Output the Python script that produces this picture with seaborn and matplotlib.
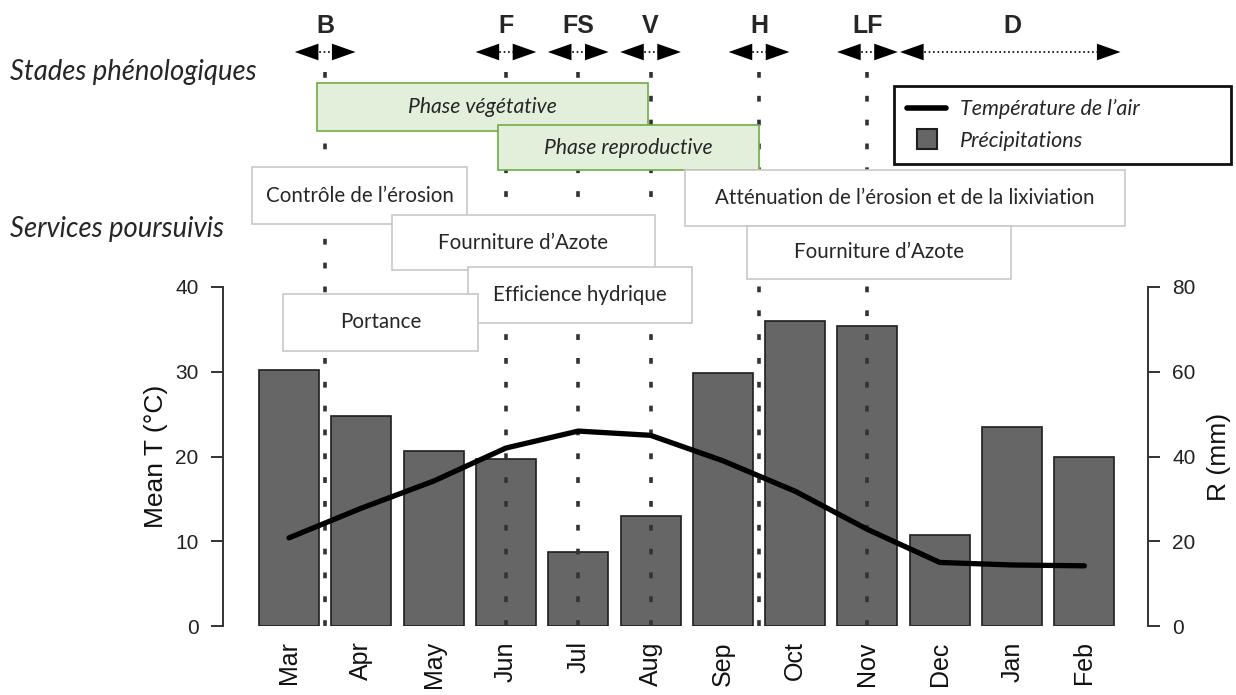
import numpy as np
import matplotlib
matplotlib.use("Agg")
import matplotlib.pyplot as plt
import matplotlib.transforms as mtransforms
from matplotlib.patches import Rectangle
from matplotlib.lines import Line2D
import seaborn as sns

# monthly climate data
months = ['Mar', 'Apr', 'May', 'Jun', 'Jul', 'Aug', 'Sep', 'Oct', 'Nov', 'Dec', 'Jan', 'Feb']
rain_mm = [60.3, 49.5, 41.3, 39.3, 17.4, 26.0, 59.7, 72.0, 70.9, 21.5, 47.0, 40.0]
temp_c = [10.4, 13.9, 17.1, 21.0, 23.0, 22.5, 19.5, 15.9, 11.4, 7.5, 7.2, 7.1]

# phenological stages (position in month index units)
stage_names = ['B', 'F', 'FS', 'V', 'H', 'LF']
stage_pos = [0.5, 3.0, 4.0, 5.0, 6.5, 8.0]
dormancy_label = 'D'
dormancy_pos = 10.0
dormancy_span = [8.45, 11.5]

# boxes: label, start, end (month index units), top, bottom (px from top)
phase_boxes = [
    ('Phase végétative', 0.39, 4.97, 83, 131),
    ('Phase reproductive', 2.89, 6.5, 125, 170),
]
service_boxes = [
    ('Contrôle de l\u2019érosion', -0.51, 2.46, 167, 224),
    ('Fourniture d\u2019Azote', 1.42, 5.06, 215, 270),
    ('Efficience hydrique', 2.48, 5.57, 267, 323),
    ('Portance', -0.08, 2.61, 294, 351),
    ('Atténuation de l\u2019érosion et de la lixiviation', 5.48, 11.56, 170, 226),
    ('Fourniture d\u2019Azote', 6.33, 9.99, 226, 279),
]

W, H = 1236, 695

sns.set_style("white")
plt.rcParams['font.family'] = ['Liberation Sans', 'DejaVu Sans']

fig = plt.figure(figsize=(W / 100, H / 100), dpi=100)
ax = fig.add_axes([223 / W, 1 - 626 / H, (1148 - 223) / W, (626 - 287) / H])

def fy(py):
    return 1 - py / H

# precipitation bars (right axis)
sns.barplot(x=months, y=rain_mm, ax=ax, color='#666666', saturation=1,
            edgecolor='#1e1e1e', linewidth=1.2, width=0.83, zorder=1)
ax.set_ylim(0, 80)
ax.set_xlim(-0.913, 11.88)

# temperature line (left axis), on a twin drawn above the bars
ax_t = ax.twinx()
sns.lineplot(x=np.arange(len(months)), y=temp_c, ax=ax_t, color='black',
             linewidth=3.8, zorder=5)
ax_t.set_ylim(0, 40)
ax_t.set_xlim(-0.913, 11.88)

spine_col = '#333333'
ax.yaxis.tick_right()
ax.yaxis.set_label_position('right')
for s in ['left', 'top', 'bottom']:
    ax.spines[s].set_visible(False)
    ax_t.spines[s].set_visible(s == 'left')
ax_t.spines['right'].set_visible(False)
ax.spines['right'].set_bounds(0, 80)
ax_t.spines['left'].set_bounds(0, 40)
ax.spines['right'].set_color(spine_col)
ax_t.spines['left'].set_color(spine_col)
ax.spines['right'].set_linewidth(1.4)
ax_t.spines['left'].set_linewidth(1.4)

ax_t.yaxis.tick_left()
ax_t.yaxis.set_label_position('left')
ax_t.set_yticks([0, 10, 20, 30, 40])
ax.set_yticks([0, 20, 40, 60, 80])
for a in (ax, ax_t):
    a.tick_params(axis='y', length=8.6, width=1.4, color=spine_col, pad=9,
                  labelsize=15, labelcolor='#222222')
ax.set_xticks(range(len(months)))
ax.set_xticklabels(months, rotation=90, fontsize=18, color='#111111')
ax.tick_params(axis='x', length=0, pad=11)
ax.set_xlabel('')
ax_t.set_ylabel('Mean T (°C)', fontsize=19, labelpad=5, color='#111111')
ax.set_ylabel('R (mm)', fontsize=19, labelpad=8, color='#111111')

blend = mtransforms.blended_transform_factory(ax_t.transData, fig.transFigure)

def double_arrow(x0, x1):
    # dotted stem with solid filled heads
    ax_t.plot([x0 + 0.15, x1 - 0.15], [fy(52), fy(52)], transform=blend, clip_on=False,
              color='black', lw=1.2, linestyle=':', zorder=3)
    ax_t.annotate('', xy=(x1, fy(52)), xytext=(x0, fy(52)),
                  xycoords=blend, textcoords=blend, annotation_clip=False,
                  arrowprops=dict(arrowstyle='<|-|>,head_length=1.7,head_width=0.6',
                                  lw=0, color='black', shrinkA=0, shrinkB=0))

# stage markers: dashed guides, letters and double arrows
for name, xp in zip(stage_names, stage_pos):
    ax_t.plot([xp, xp], [fy(72), fy(626)], transform=blend, clip_on=False,
              color='#333333', lw=2.6, linestyle=(0, (1.6, 5.0)), zorder=1.5)
    ax_t.text(xp, fy(26), name, transform=blend, ha='center', va='center',
              fontsize=18, fontweight='bold')
    double_arrow(xp - 0.42, xp + 0.42)
ax_t.text(dormancy_pos, fy(26), dormancy_label, transform=blend,
          ha='center', va='center', fontsize=18, fontweight='bold')
double_arrow(dormancy_span[0], dormancy_span[1])

# phase and service boxes
box_font = ['Lato', 'DejaVu Sans']
for label, x0, x1, ytop, ybot in phase_boxes:
    ax_t.add_patch(Rectangle((x0, fy(ybot)), x1 - x0, (ybot - ytop) / H,
                             transform=blend, clip_on=False, facecolor='#e2efda',
                             edgecolor='#70ad47', lw=1.2, zorder=4))
    ax_t.text((x0 + x1) / 2, fy((ytop + ybot) / 2), label, transform=blend,
              ha='center', va='center', fontsize=15.2, style='italic',
              family=box_font, zorder=4.1)
for label, x0, x1, ytop, ybot in service_boxes:
    ax_t.add_patch(Rectangle((x0, fy(ybot)), x1 - x0, (ybot - ytop) / H,
                             transform=blend, clip_on=False, facecolor='white',
                             edgecolor='#c8c8c8', lw=1.2, zorder=4))
    ax_t.text((x0 + x1) / 2, fy((ytop + ybot) / 2), label, transform=blend,
              ha='center', va='center', fontsize=14.8, family=box_font, zorder=4.1)

fig.text(10 / W, fy(72), 'Stades phénologiques', ha='left', va='center',
         fontsize=19.8, style='italic', family=box_font)
fig.text(10 / W, fy(229), 'Services poursuivis', ha='left', va='center',
         fontsize=19.8, style='italic', family=box_font)

# legend
handles = [Line2D([], [], color='black', lw=4),
           Line2D([], [], marker='s', markersize=15, markerfacecolor='#666666',
                  markeredgecolor='#1e1e1e', markeredgewidth=1.5, linestyle='none')]
leg = ax_t.legend(handles, ['Température de l\u2019air', 'Précipitations'],
                  loc='upper left', bbox_to_anchor=(894 / W, fy(166), (1231 - 894) / W, 80 / H),
                  bbox_transform=fig.transFigure, mode='expand', frameon=True,
                  fancybox=False, borderaxespad=0, handlelength=1.8,
                  handletextpad=0.65, labelspacing=0.52, borderpad=0.62,
                  prop={'family': box_font, 'style': 'italic', 'size': 15.5})
leg.get_frame().set_edgecolor('#111111')
leg.get_frame().set_linewidth(2)
leg.get_frame().set_alpha(1)
leg.set_zorder(6)

fig.savefig('out.png', dpi=100)
